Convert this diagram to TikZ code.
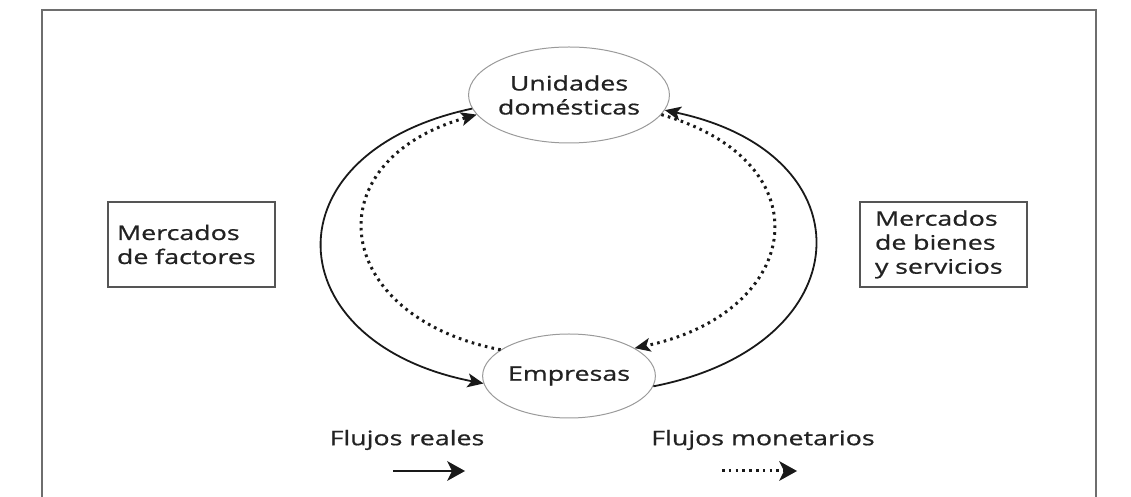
\documentclass[tikz,border=0pt]{standalone}
\usepackage{fontspec}
\setmainfont{Open Sans}[FakeStretch=1.34,FakeBold=0.8]
\usetikzlibrary{arrows.meta,shapes.geometric}
\definecolor{framegray}{HTML}{6E6E6E}
\definecolor{ellgray}{HTML}{9A9A9A}
\definecolor{boxgray}{HTML}{555555}
\definecolor{txt}{HTML}{222222}
\begin{document}
\begin{tikzpicture}[x=1pt,y=1pt,
  txtfont/.style={font=\fontsize{20}{24}\selectfont, text=txt},
  agent/.style={ellipse, draw=ellgray, line width=1pt, inner sep=0pt, align=center, txtfont},
  market/.style={rectangle, draw=boxgray, line width=1.5pt, minimum width=167pt, minimum height=85pt, align=left, txtfont},
  realflow/.style={draw=black!90, line width=1.8pt, -{Stealth[length=16pt,width=14pt,inset=4pt]}},
  moneyflow/.style={draw=black!90, line width=3pt, dash pattern=on 2.6pt off 4.2pt, -{Stealth[length=16pt,width=14pt,inset=4pt,line width=0pt]}},
  legendtip/.style={-{Stealth[length=18pt,width=20pt,inset=5pt,line width=0pt]}}
]
\useasboundingbox (0,0) rectangle (1131,497);
% frame (open at bottom)
\draw[framegray, line width=2.5pt] (42,0) -- (42,487) -- (1096,487) -- (1096,0);

% agents
\node[agent, minimum width=168pt, minimum height=96pt] (U) at (569,402) {Unidades\\domésticas};
\node[agent, minimum width=148pt, minimum height=84pt] (E) at (569,121) {Empresas};

% markets
\node[market, text width=149pt, inner xsep=9pt] (F) at (191.5,252.5) {Mercados\\de factores};
\node[market, text width=137pt, inner xsep=15pt] (B) at (943.5,252.5) {Mercados\\de bienes\\y servicios};

% real flows (solid)
\draw[realflow] (U.188) .. controls +(192:212) and +(169:212) .. (E.185);
\draw[realflow] (E.353) .. controls +(11:212) and +(-12:212) .. (U.351);

% monetary flows (dotted)
\draw[moneyflow] (E.159) .. controls +(169:172) and +(196:172) .. (U.192);
\draw[moneyflow] (U.348) .. controls +(-16:172) and +(12:172) .. (E.23);

% legend
\node[txtfont] (LR) at (407,57) {Flujos reales};
\node[txtfont] (LM) at (763,57) {Flujos monetarios};
\coordinate (ra) at (393,26);
\coordinate (rb) at (465,26);
\coordinate (ma) at (722,26);
\coordinate (mb) at (797,26);
\draw[realflow, legendtip] (ra) -- (rb);
\draw[moneyflow, legendtip] (ma) -- (mb);
\end{tikzpicture}
\end{document}
